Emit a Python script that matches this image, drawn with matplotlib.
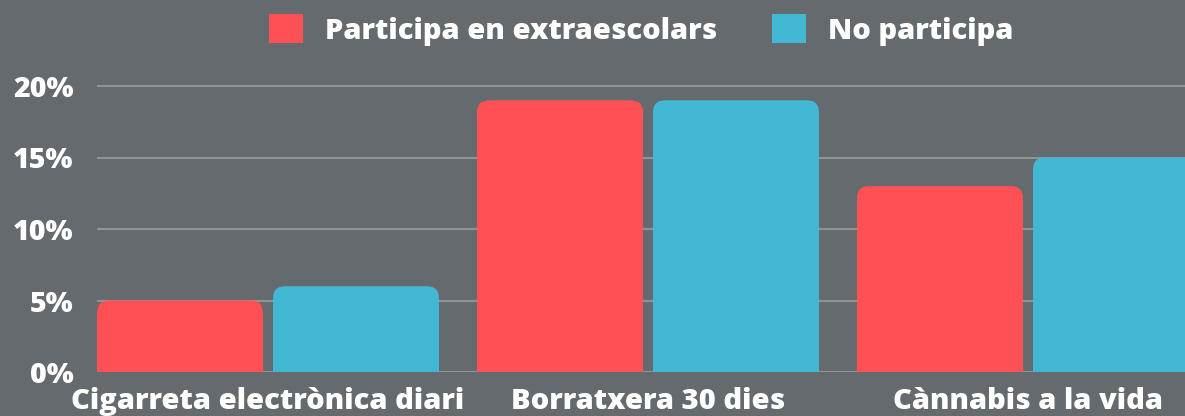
import matplotlib.pyplot as plt
from matplotlib.patches import FancyBboxPatch, Patch
import numpy as np

categories = ['Cigarreta electrònica diari', 'Borratxera 30 dies', 'Cànnabis a la vida']
participa = [5, 19, 13]
no_participa = [6, 19, 15]
series_names = ['Participa en extraescolars', 'No participa']
yticks = [0, 5, 10, 15, 20]

BG = '#646a6d'
RED = '#ff5055'
CYAN = '#42b8d5'
GRID = '#8f9496'

plt.rcParams['font.family'] = ['Open Sans', 'DejaVu Sans']
plt.rcParams['font.weight'] = 'heavy'

fig = plt.figure(figsize=(11.85, 4.16), dpi=100, facecolor=BG)
ax = fig.add_axes([97 / 1185, 44 / 416, 1102 / 1185, 300.3 / 416])
ax.set_facecolor(BG)

x = np.arange(len(categories))
w = 166 / 380
off = 88 / 380


def rounded_bars(xs, vals, color):
    bars = ax.bar(xs, vals, width=w, color=color)
    for b in bars:
        b.set_visible(False)
        # rounded top corners; bottom pushed below 0 so it's clipped
        p = FancyBboxPatch((b.get_x(), -2), b.get_width(), b.get_height() + 2,
                           boxstyle='round,pad=0,rounding_size=0.032',
                           mutation_aspect=26.6, facecolor=color,
                           edgecolor='none', zorder=3)
        ax.add_patch(p)


rounded_bars(x - off, participa, RED)
rounded_bars(x + off, no_participa, CYAN)

ax.set_xlim(-0.45, 2.45)
ax.set_ylim(0, 21)
ax.set_yticks(yticks)
ax.set_yticklabels([f'{v}%' for v in yticks])
ax.set_xticks(x)
ax.set_xticklabels(categories)
ax.tick_params(axis='y', length=0, pad=17, labelsize=20.5, labelcolor='white')
ax.tick_params(axis='x', length=0, pad=11, labelsize=21, labelcolor='white')
ax.grid(axis='y', color=GRID, linewidth=1.5)
ax.set_axisbelow(True)
for s in ax.spines.values():
    s.set_visible(False)

handles = [Patch(facecolor=RED), Patch(facecolor=CYAN)]
fig.legend(handles, series_names, loc='center', bbox_to_anchor=(641 / 1185, 1 - 30 / 416),
           ncol=2, frameon=False, fontsize=21, labelcolor='white',
           handlelength=1.15, handleheight=1.15, handletextpad=0.75, columnspacing=1.9)

fig.savefig('out.png', dpi=100, facecolor=BG)
